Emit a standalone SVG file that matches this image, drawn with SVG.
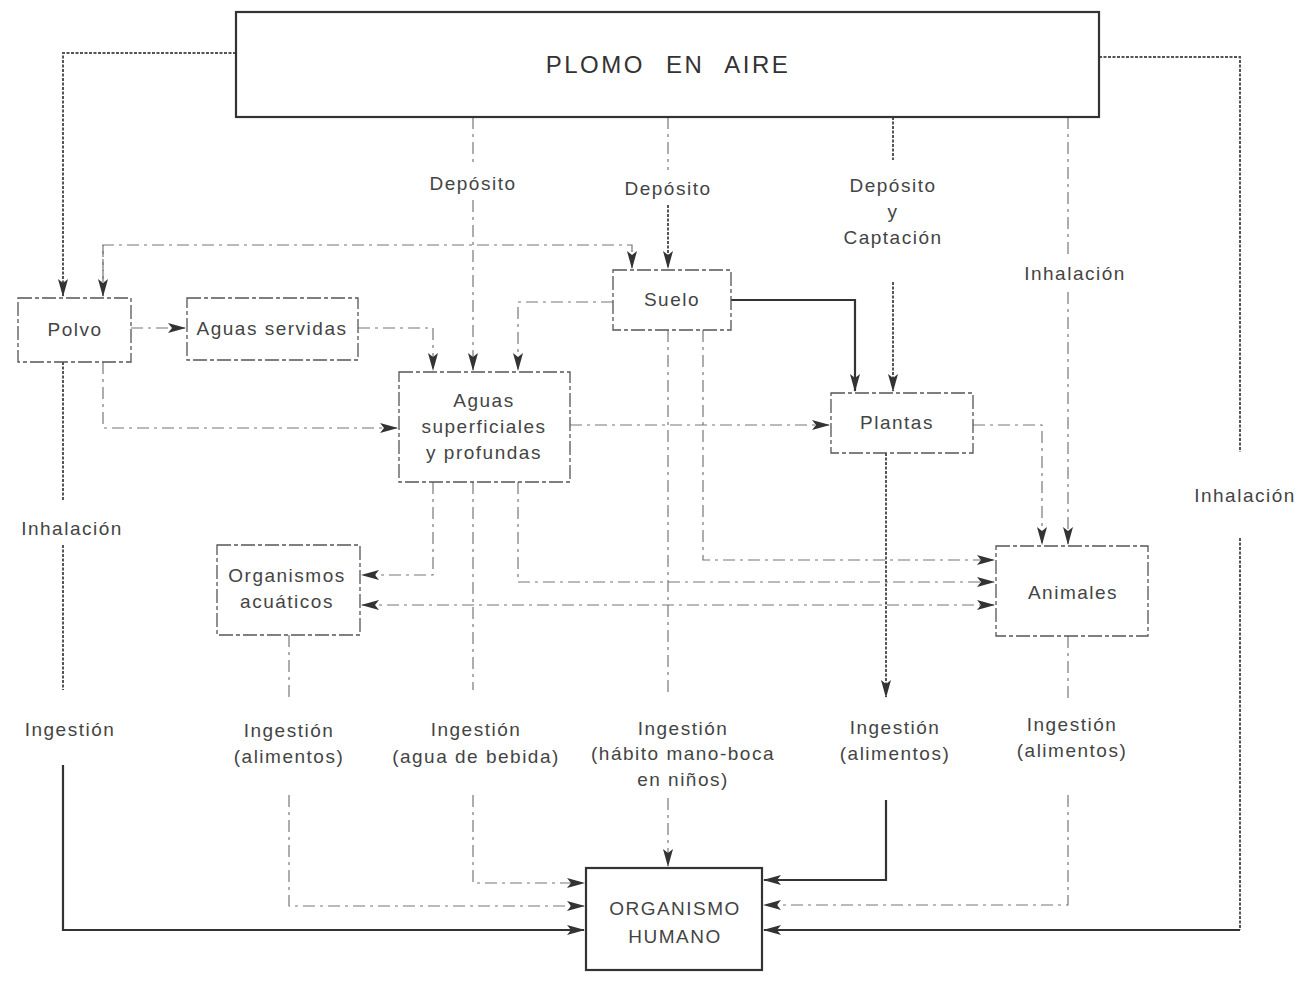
<svg xmlns="http://www.w3.org/2000/svg" width="1299" height="981" viewBox="0 0 1299 981">
<style>
.box{fill:#fff;stroke:#555;stroke-width:1.3;stroke-dasharray:14 3 4 3}
.boxb{fill:#fff;stroke:#333;stroke-width:2.2}
.t{font-family:"Liberation Sans",Arial,sans-serif;font-size:19px;letter-spacing:1.5px;fill:#444;text-anchor:middle}
.tb{font-family:"Liberation Sans",Arial,sans-serif;font-size:24px;letter-spacing:2.5px;word-spacing:12px;fill:#333;text-anchor:middle}
.d{fill:none;stroke:#777;stroke-width:1.2;stroke-dasharray:12 5 3 5}
.s{fill:none;stroke:#333;stroke-width:2.2}
.sd{fill:none;stroke:#555;stroke-width:2;stroke-dasharray:3 1.5}
</style>
<defs>
<marker id="a" viewBox="0 0 18 12" refX="17" refY="6" markerWidth="18" markerHeight="12" markerUnits="userSpaceOnUse" orient="auto"><path d="M0,1 L18,6 L0,11 L4,6 Z" fill="#333"/></marker>
<marker id="as" viewBox="0 0 18 12" refX="1" refY="6" markerWidth="18" markerHeight="12" markerUnits="userSpaceOnUse" orient="auto"><path d="M18,1 L0,6 L18,11 L14,6 Z" fill="#333"/></marker>
</defs>

<g id="connectors">
<!-- outer left loop -->
<path class="sd" d="M236,53 H63 V296" marker-end="url(#a)"/>
<path class="sd" d="M63,362 V500"/>
<path class="sd" d="M63,545 V690"/>
<path class="s" d="M63,765 V930 H584" marker-end="url(#a)"/>
<!-- outer right loop -->
<path class="sd" d="M1099,57 H1240 V452"/>
<path class="sd" d="M1240,538 V930"/>
<path class="s" d="M1240,930 H764" marker-end="url(#a)"/>
<!-- Depósito 1 -->
<path class="d" d="M473,117 V165"/>
<path class="d" d="M473,200 V370" marker-end="url(#a)"/>
<!-- Depósito 2 -->
<path class="d" d="M668,117 V170"/>
<path class="sd" d="M668,205 V268" marker-end="url(#a)"/>
<!-- Depósito y Captación -->
<path class="sd" d="M893,117 V160"/>
<path class="sd" d="M893,282 V391" marker-end="url(#a)"/>
<!-- Inhalación middle -->
<path class="d" d="M1068,117 V255"/>
<path class="d" d="M1068,292 V544" marker-end="url(#a)"/>
<!-- dashed top line Polvo - Suelo -->
<path class="d" d="M103,296 V245 H632 V268" marker-end="url(#a)"/>
<path class="d" d="M103,245 V296" marker-end="url(#a)"/>
<!-- Polvo -> Aguas servidas -->
<path class="d" d="M131,328 H185" marker-end="url(#a)"/>
<!-- Polvo -> Aguas superficiales -->
<path class="d" d="M103,362 V428 H397" marker-end="url(#a)"/>
<!-- Aguas servidas -> Aguas superficiales -->
<path class="d" d="M358,328 H433 V370" marker-end="url(#a)"/>
<!-- Suelo -> Aguas superficiales -->
<path class="d" d="M613,302 H518 V370" marker-end="url(#a)"/>
<!-- Suelo -> Plantas -->
<path class="s" d="M731,300 H855 V391" marker-end="url(#a)"/>
<!-- Aguas superficiales -> Plantas -->
<path class="d" d="M570,425 H829" marker-end="url(#a)"/>
<!-- Plantas -> Animales -->
<path class="d" d="M973,425 H1042 V544" marker-end="url(#a)"/>
<!-- Aguas superficiales -> Organismos acuáticos -->
<path class="d" d="M433,482 V575 H362" marker-end="url(#a)"/>
<!-- Organismos acuáticos <-> Animales -->
<path class="d" d="M362,605 H994" marker-start="url(#as)" marker-end="url(#a)"/>
<!-- Suelo -> Animales -->
<path class="d" d="M703,330 V560 H994" marker-end="url(#a)"/>
<!-- Aguas superficiales -> Animales -->
<path class="d" d="M518,482 V582 H994" marker-end="url(#a)"/>
<!-- Agua de bebida -> Humano -->
<path class="d" d="M473,482 V690"/>
<path class="d" d="M473,795 V883 H584" marker-end="url(#a)"/>
<!-- Organismos acuáticos -> Humano -->
<path class="d" d="M289,635 V700"/>
<path class="d" d="M289,795 V906 H584" marker-end="url(#a)"/>
<!-- Suelo -> Humano (mano-boca) -->
<path class="d" d="M668,330 V692"/>
<path class="d" d="M668,798 V866" marker-end="url(#a)"/>
<!-- Plantas -> Humano -->
<path class="sd" d="M886,453 V697" marker-end="url(#a)"/>
<path class="s" d="M886,800 V880 H764" marker-end="url(#a)"/>
<!-- Animales -> Humano -->
<path class="d" d="M1068,636 V700"/>
<path class="d" d="M1068,795 V905 H764" marker-end="url(#a)"/>
</g>

<g id="plomo-en-aire">
<rect class="boxb" x="236" y="12" width="863" height="105"/>
<text class="tb" x="668" y="73">PLOMO EN AIRE</text>
</g>
<g id="polvo">
<rect class="box" x="18" y="298" width="113" height="64"/>
<text class="t" x="75" y="336">Polvo</text>
</g>
<g id="aguas-servidas">
<rect class="box" x="187" y="298" width="171" height="62"/>
<text class="t" x="272" y="335">Aguas servidas</text>
</g>
<g id="suelo">
<rect class="box" x="613" y="270" width="118" height="60"/>
<text class="t" x="672" y="306">Suelo</text>
</g>
<g id="aguas-superficiales">
<rect class="box" x="399" y="372" width="171" height="110"/>
<text class="t" x="484" y="407">Aguas</text>
<text class="t" x="484" y="433">superficiales</text>
<text class="t" x="484" y="459">y profundas</text>
</g>
<g id="plantas">
<rect class="box" x="831" y="393" width="142" height="60"/>
<text class="t" x="897" y="429">Plantas</text>
</g>
<g id="organismos-acuaticos">
<rect class="box" x="217" y="545" width="143" height="90"/>
<text class="t" x="287" y="582">Organismos</text>
<text class="t" x="287" y="608">acuáticos</text>
</g>
<g id="animales">
<rect class="box" x="996" y="546" width="152" height="90"/>
<text class="t" x="1073" y="599">Animales</text>
</g>
<g id="organismo-humano">
<rect class="boxb" x="586" y="868" width="176" height="102"/>
<text class="t" x="675" y="915">ORGANISMO</text>
<text class="t" x="675" y="943">HUMANO</text>
</g>

<g id="labels">
<text class="t" x="473" y="190">Depósito</text>
<text class="t" x="668" y="195">Depósito</text>
<text class="t" x="893" y="192">Depósito</text>
<text class="t" x="893" y="218">y</text>
<text class="t" x="893" y="244">Captación</text>
<text class="t" x="1075" y="280">Inhalación</text>
<text class="t" x="72" y="535">Inhalación</text>
<text class="t" x="1245" y="502">Inhalación</text>
<text class="t" x="70" y="736">Ingestión</text>
<text class="t" x="289" y="737">Ingestión</text>
<text class="t" x="289" y="763">(alimentos)</text>
<text class="t" x="476" y="736">Ingestión</text>
<text class="t" x="476" y="763">(agua de bebida)</text>
<text class="t" x="683" y="735">Ingestión</text>
<text class="t" x="683" y="760">(hábito mano-boca</text>
<text class="t" x="683" y="786">en niños)</text>
<text class="t" x="895" y="734">Ingestión</text>
<text class="t" x="895" y="760">(alimentos)</text>
<text class="t" x="1072" y="731">Ingestión</text>
<text class="t" x="1072" y="757">(alimentos)</text>
</g>
</svg>
